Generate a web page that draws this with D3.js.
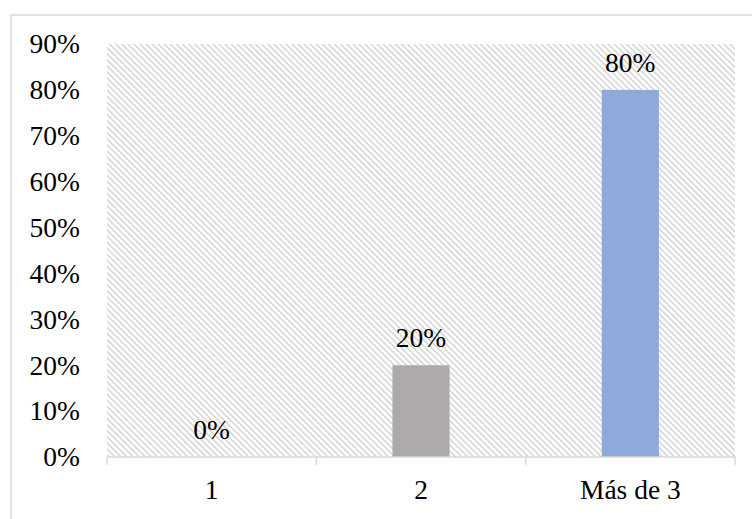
<!DOCTYPE html>
<html>
<head>
<meta charset="utf-8">
<script src="https://cdn.jsdelivr.net/npm/d3@7"></script>
<style>
  body { margin: 0; background: #fff; }
  text { font-family: "Times New Roman", "Liberation Serif", serif; fill: #000; }
</style>
</head>
<body>
<svg id="chart"></svg>
<script>
const categories = ["1", "2", "Más de 3"];
const values = [0, 20, 80];
const barColors = ["#a5a5a5", "#aeaaaa", "#8eaadb"];
const yTicks = [0, 10, 20, 30, 40, 50, 60, 70, 80, 90];

const width = 752, height = 519;
const margin = { left: 107, right: 17, top: 44, bottom: 62 };
const fontSize = 27.5;

const svg = d3.select("#chart")
    .attr("width", width)
    .attr("height", height);

// diagonal hatch background
const defs = svg.append("defs");
const pat = defs.append("pattern")
    .attr("id", "hatch")
    .attr("patternUnits", "userSpaceOnUse")
    .attr("width", 8)
    .attr("height", 4.3)
    .attr("patternTransform", "rotate(45)");
pat.append("rect").attr("width", 8).attr("height", 4.3).attr("fill", "#fff");
pat.append("line")
    .attr("x1", 0).attr("x2", 8)
    .attr("y1", 1).attr("y2", 1)
    .attr("stroke", "#d2d2d2")
    .attr("stroke-width", 1.4);

// outer frame
svg.append("rect")
    .attr("x", 11).attr("y", 15)
    .attr("width", 760).attr("height", 520)
    .attr("fill", "none")
    .attr("stroke", "#d9d9d9")
    .attr("stroke-width", 1.5);

const x = d3.scaleBand()
    .domain(categories)
    .range([margin.left, width - margin.right])
    .paddingInner(0.727)
    .paddingOuter(0.3635);

const y = d3.scaleLinear()
    .domain([0, 90])
    .range([height - margin.bottom, margin.top]);

svg.append("rect")
    .attr("x", margin.left)
    .attr("y", margin.top)
    .attr("width", width - margin.right - margin.left)
    .attr("height", y(0) - margin.top)
    .attr("fill", "url(#hatch)");

svg.selectAll("rect.bar")
    .data(values)
    .join("rect")
    .attr("class", "bar")
    .attr("x", (d, i) => x(categories[i]))
    .attr("y", d => y(d))
    .attr("width", x.bandwidth())
    .attr("height", d => y(0) - y(d))
    .attr("fill", (d, i) => barColors[i]);

svg.selectAll("text.val")
    .data(values)
    .join("text")
    .attr("class", "val")
    .attr("x", (d, i) => x(categories[i]) + x.bandwidth() / 2)
    .attr("y", d => y(d) - 18)
    .attr("text-anchor", "middle")
    .attr("font-size", fontSize)
    .text(d => d + "%");

// y axis labels (no line)
const yAxis = svg.append("g")
    .attr("transform", `translate(${margin.left},0)`)
    .call(d3.axisLeft(y).tickValues(yTicks).tickSize(0).tickPadding(27).tickFormat(d => d + "%"));
yAxis.select(".domain").remove();
yAxis.selectAll("text")
    .attr("font-size", fontSize)
    .attr("fill", "#000");

// x axis with category separators
const xAxis = svg.append("g")
    .attr("transform", `translate(0,${y(0)})`)
    .call(d3.axisBottom(x).tickSize(0).tickPadding(22));
xAxis.select(".domain")
    .attr("d", `M${margin.left},8V0H${width - margin.right}V8`)
    .attr("stroke", "#d9d9d9")
    .attr("stroke-width", 1.5);
xAxis.selectAll("text")
    .attr("font-size", fontSize)
    .attr("fill", "#000");
const seps = categories.slice(1).map(c => x(c) - x.step() * x.paddingInner() / 2);
xAxis.selectAll("line.sep")
    .data(seps)
    .join("line")
    .attr("class", "sep")
    .attr("x1", d => d).attr("x2", d => d)
    .attr("y1", 0).attr("y2", 8)
    .attr("stroke", "#d9d9d9")
    .attr("stroke-width", 1.5);
</script>
</body>
</html>
